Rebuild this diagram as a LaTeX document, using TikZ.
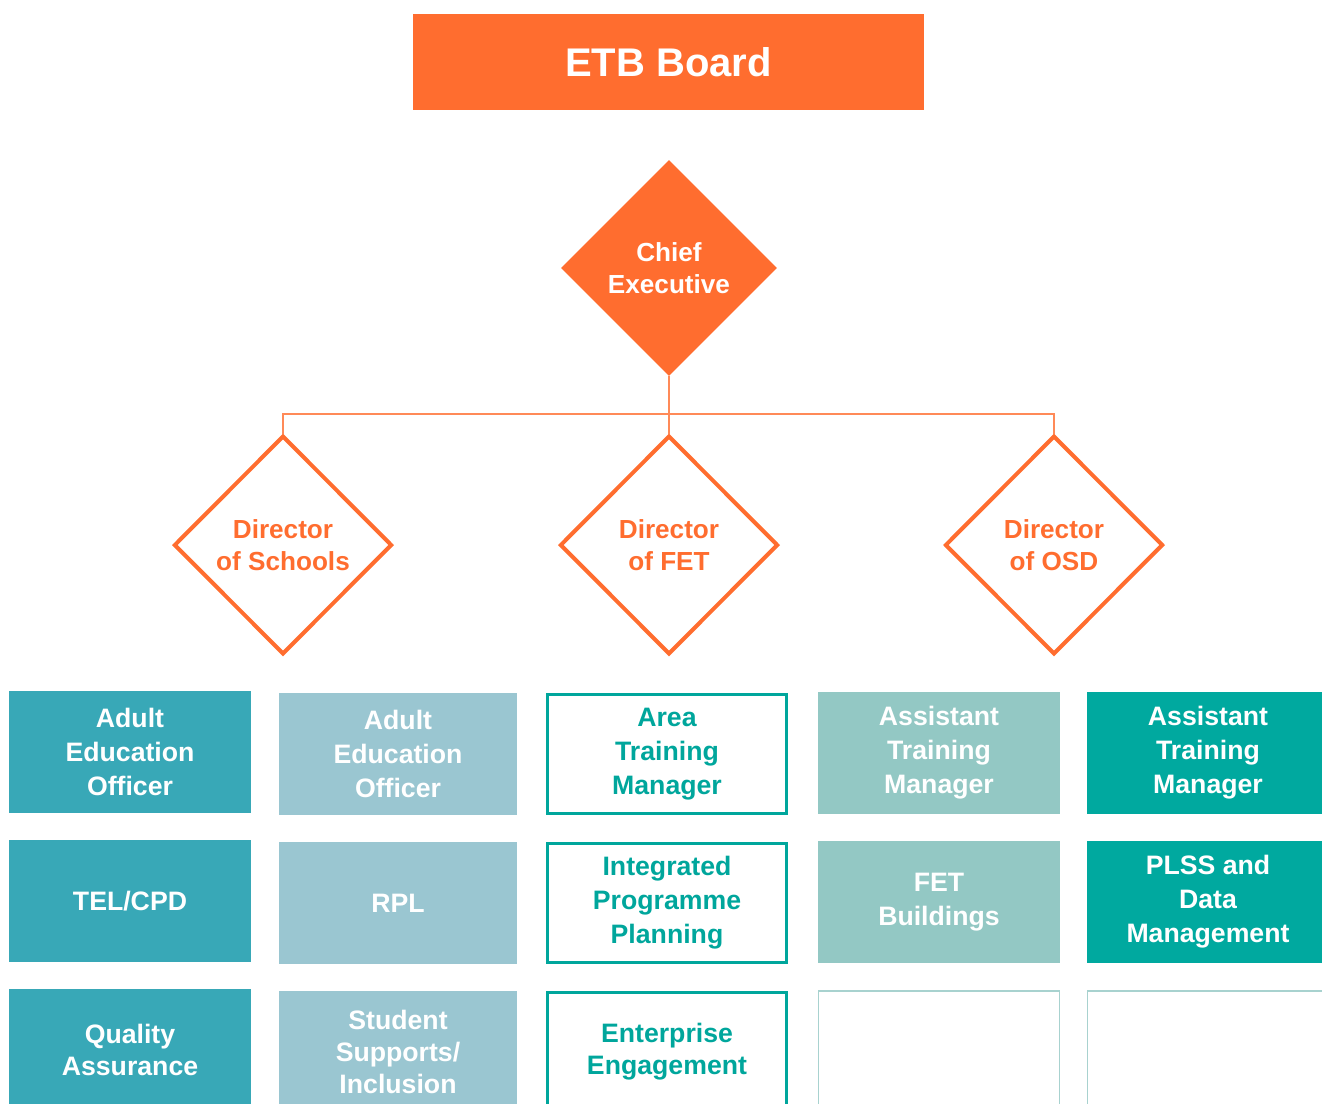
\documentclass[tikz,border=0pt]{standalone}
\usepackage{fontspec}
\setmainfont{Liberation Sans}
\usepackage{tikz}
\usetikzlibrary{shapes.geometric, positioning}
\definecolor{etborange}{HTML}{FF6D2F}
\definecolor{linkorange}{HTML}{FF8A58}
\definecolor{schoolteal}{HTML}{38A8B7}
\definecolor{schoolpale}{HTML}{9AC6D1}
\definecolor{fetteal}{HTML}{00A69C}
\definecolor{osdpale}{HTML}{93C8C4}
\definecolor{osdteal}{HTML}{00A99F}
\definecolor{emptyline}{HTML}{A8D2CF}
\tikzstyle{board} = [rectangle, minimum width=383.25pt, minimum height=72pt, fill=etborange, text=white, font=\fontsize{30}{36}\selectfont\bfseries]
\tikzstyle{chief} = [diamond, minimum width=162pt, minimum height=162pt, inner sep=0pt, fill=etborange, text=white, align=center, font=\fontsize{19.6}{24}\selectfont\bfseries]
\tikzstyle{director} = [diamond, minimum width=163.5pt, minimum height=164pt, inner sep=0pt, draw=etborange, line width=3pt, text=etborange, align=center, font=\fontsize{19.6}{24}\selectfont\bfseries]
\tikzstyle{unit} = [rectangle, minimum width=181.5pt, minimum height=91.5pt, inner sep=0pt, align=center, text=white, font=\fontsize{20}{25.5}\selectfont\bfseries]
\tikzstyle{tight} = [font=\fontsize{20}{24}\selectfont\bfseries]
\tikzstyle{schools} = [unit, fill=schoolteal]
\tikzstyle{schoolslight} = [unit, fill=schoolpale, minimum width=178.5pt]
\tikzstyle{fet} = [unit, draw=fetteal, line width=2.25pt, text=fetteal, minimum width=179pt, minimum height=89pt]
\tikzstyle{osdlight} = [unit, fill=osdpale]
\tikzstyle{osd} = [unit, fill=osdteal]
\tikzstyle{vacant} = [unit, draw=emptyline, line width=1.1pt, minimum width=180.5pt, minimum height=90pt]
\tikzstyle{link} = [linkorange, line width=1.1pt]

\begin{document}
\begin{tikzpicture}[x=0.75pt, y=-0.75pt, node distance=111.75pt]
\useasboundingbox (0,0) rectangle (1322,1104);
\clip (0,0) rectangle (1322,1104);

\node (etb) [board] at (668.5,62) {ETB Board};
\node (ce) [chief] at (669,268) {Chief\\Executive};

\node (dirschools) [director] at (283,545) {Director\\of Schools};
\node (dirfet) [director] at (669,545) {Director\\of FET};
\node (dirosd) [director] at (1054,545) {Director\\of OSD};

\coordinate (bar) at (669,414);
\draw [link] (ce.south) -- (dirfet.north);
\draw [link] (dirschools.north) |- (bar) -| (dirosd.north);

\node (aeo) [schools] at (130,752) {Adult\\Education\\Officer};
\node (telcpd) [schools, below of=aeo] {TEL/CPD};
\node (qa) [schools, tight, below of=telcpd] {Quality\\Assurance};

\node (aeotwo) [schoolslight] at (398,754) {Adult\\Education\\Officer};
\node (rpl) [schoolslight, below of=aeotwo] {RPL};
\node (support) [schoolslight, tight, below of=rpl] {Student\\Supports/\\Inclusion};

\node (atm) [fet] at (667,754) {Area\\Training\\Manager};
\node (ipp) [fet, below of=atm] {Integrated\\Programme\\Planning};
\node (enterprise) [fet, tight, below of=ipp] {Enterprise\\Engagement};

\node (asstone) [osdlight] at (939,753) {Assistant\\Training\\Manager};
\node (buildings) [osdlight, below of=asstone] {FET\\Buildings};
\node (spareone) [vacant, below of=buildings] {};

\node (assttwo) [osd] at (1208,753) {Assistant\\Training\\Manager};
\node (plss) [osd, below of=assttwo] {PLSS and\\Data\\Management};
\node (sparetwo) [vacant, below of=plss] {};

\end{tikzpicture}
\end{document}
